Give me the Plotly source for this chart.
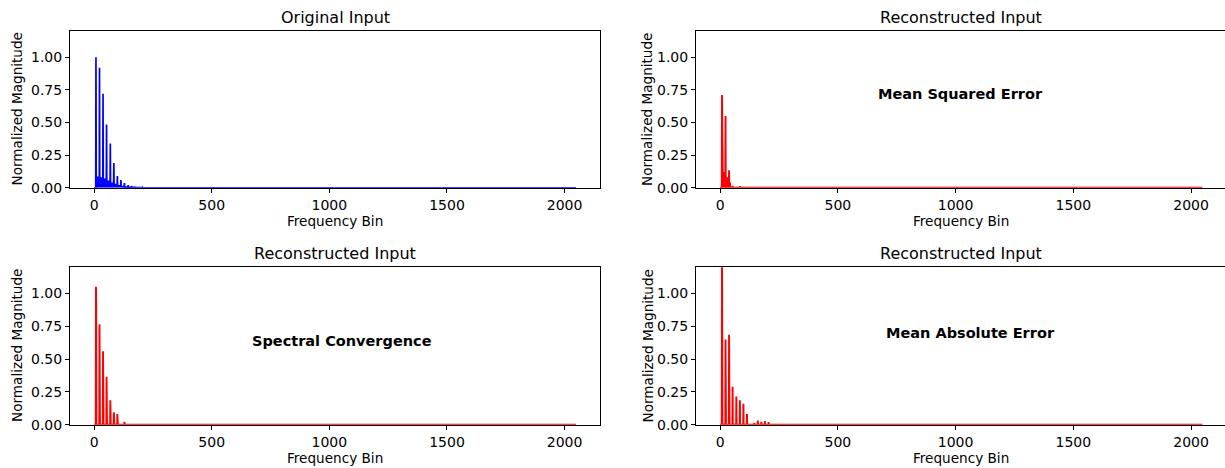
import plotly.graph_objects as go

N_BINS = 2049

# Original input (blue): harmonic peak bins/heights and floor level between peaks
orig_bins = [8, 23, 38, 53, 69, 84, 99, 114, 129, 145, 160, 175, 190, 206, 221, 236]
orig_vals = [1.0, 0.92, 0.72, 0.485, 0.34, 0.19, 0.09, 0.06, 0.036, 0.02, 0.012, 0.008, 0.005, 0.003, 0.002, 0.001]
orig_floor = [0.08, 0.075, 0.065, 0.05, 0.035, 0.025, 0.015, 0.01, 0.006, 0.004, 0.003, 0.002, 0.001, 0.0005, 0.0]

# Reconstruction with MSE loss
mse_bins = [8, 11, 14, 23, 27, 31, 38, 42, 53, 84]
mse_vals = [0.71, 0.2, 0.12, 0.55, 0.05, 0.08, 0.135, 0.04, 0.015, 0.012]

# Reconstruction with spectral convergence loss
sc_bins = [8, 9, 23, 24, 38, 39, 53, 54, 69, 70, 84, 85, 99, 100, 129]
sc_vals = [1.05, 0.9, 0.765, 0.6, 0.56, 0.45, 0.365, 0.28, 0.187, 0.15, 0.095, 0.08, 0.082, 0.07, 0.023]

# Reconstruction with MAE loss
mae_bins = [8, 9, 23, 24, 38, 39, 53, 69, 84, 99, 114, 145, 160, 175, 190, 206]
mae_vals = [1.35, 1.0, 0.65, 0.5, 0.685, 0.5, 0.29, 0.215, 0.187, 0.16, 0.082, 0.012, 0.033, 0.023, 0.028, 0.02]

x_ticks = [0, 500, 1000, 1500, 2000]
y_ticks = [0.0, 0.25, 0.5, 0.75, 1.0]

titles = ["Original Input", "Reconstructed Input", "Reconstructed Input", "Reconstructed Input"]
labels = [None, "Mean Squared Error", "Spectral Convergence", "Mean Absolute Error"]
label_pos = [None, (1019, 0.715), (1053, 0.64), (1062, 0.70)]

FONT = "DejaVu Sans"


def blue_curve(bins, vals, floors):
    xs, ys = [0, bins[0] - 1], [0, 0]
    for i, (b, v) in enumerate(zip(bins, vals)):
        xs.append(b)
        ys.append(v)
        if i < len(floors) and i + 1 < len(bins):
            xs += [b + 1, bins[i + 1] - 1]
            ys += [floors[i], floors[i]]
    xs += [bins[-1] + 1, N_BINS - 1]
    ys += [0, 0]
    return xs, ys


def spikes(bins, vals):
    pairs = dict(zip(bins, vals))
    xs, ys = [0], [0]
    for b in sorted(pairs):
        if xs[-1] < b - 1:
            xs.append(b - 1)
            ys.append(0)
        xs.append(b)
        ys.append(pairs[b])
        if (b + 1) not in pairs:
            xs.append(b + 1)
            ys.append(0)
    xs.append(N_BINS - 1)
    ys.append(0)
    return xs, ys


W, H = 1225, 468      # reference pixel grid used for placement
FIG_H = 478           # rendered height compensates for viewport shrink
left_dom = [70 / W, 600 / W]
right_dom = [696 / W, 1.0]
top_dom = [(H - 187) / H, (H - 31) / H]
bot_dom = [(H - 423) / H, (H - 266) / H]

fig = go.Figure()

bx, by = blue_curve(orig_bins, orig_vals, orig_floor)
fig.add_trace(go.Scatter(x=bx, y=by, mode="lines", line=dict(color="#0000ff", width=1.7),
                         fill="tozeroy", fillcolor="#0000ff", xaxis="x", yaxis="y", showlegend=False))
for (bins, vals), ax in [((mse_bins, mse_vals), 2), ((sc_bins, sc_vals), 3), ((mae_bins, mae_vals), 4)]:
    sx, sy = spikes(bins, vals)
    fig.add_trace(go.Scatter(x=sx, y=sy, mode="lines", line=dict(color="#ff0000", width=1.9),
                             xaxis=f"x{ax}", yaxis=f"y{ax}", showlegend=False))

doms = [(left_dom, top_dom), (right_dom, top_dom), (left_dom, bot_dom), (right_dom, bot_dom)]
layout = {}
annotations = []
for i, (xd, yd) in enumerate(doms):
    k = "" if i == 0 else str(i + 1)
    is_right = xd is right_dom
    layout[f"xaxis{k}"] = dict(
        domain=xd, anchor=f"y{k}", range=[-102.4, 2144 if is_right else 2150.4],
        tickvals=x_ticks, ticks="outside", ticklen=4, tickwidth=1, tickcolor="black",
        showline=True, linecolor="black", linewidth=1, mirror=True, showgrid=False, zeroline=False,
        tickfont=dict(family=FONT, size=14, color="black"),
    )
    layout[f"yaxis{k}"] = dict(
        domain=yd, anchor=f"x{k}", range=[0, 1.2],
        tickvals=y_ticks, tickformat=".2f", ticks="outside", ticklen=4, tickwidth=1, tickcolor="black",
        showline=True, linecolor="black", linewidth=1, mirror=not is_right, showgrid=False, zeroline=False,
        tickfont=dict(family=FONT, size=14, color="black"),
    )
    xc_px = (xd[0] * W + (1226 if is_right else xd[1] * W)) / 2
    top_px = H - yd[1] * H
    bot_px = H - yd[0] * H
    annotations.append(dict(text=titles[i], xref="paper", yref="paper", x=xc_px / W, y=(H - (top_px - 14)) / H,
                            showarrow=False, xanchor="center", yanchor="middle",
                            font=dict(family=FONT, size=16, color="black")))
    annotations.append(dict(text="Frequency Bin", xref="paper", yref="paper", x=xc_px / W, y=(H - (bot_px + 33)) / H,
                            showarrow=False, xanchor="center", yanchor="middle",
                            font=dict(family=FONT, size=13.6, color="black")))
    yt_x = (17 if not is_right else 647.5)
    annotations.append(dict(text="Normalized Magnitude", xref="paper", yref="paper", x=yt_x / W,
                            y=(yd[0] + yd[1]) / 2, textangle=-90, showarrow=False,
                            xanchor="center", yanchor="middle",
                            font=dict(family=FONT, size=13.6, color="black")))
    if labels[i]:
        lx, ly = label_pos[i]
        annotations.append(dict(text=f"<b>{labels[i]}</b>", xref=f"x{k}", yref=f"y{k}", x=lx, y=ly,
                                showarrow=False, xanchor="center", yanchor="middle",
                                font=dict(family=FONT, size=14.5, color="black")))

fig.update_layout(
    width=W, height=FIG_H, margin=dict(l=0, r=0, t=0, b=0),
    paper_bgcolor="white", plot_bgcolor="white",
    annotations=annotations, **layout,
)

fig.write_html("out.html")
